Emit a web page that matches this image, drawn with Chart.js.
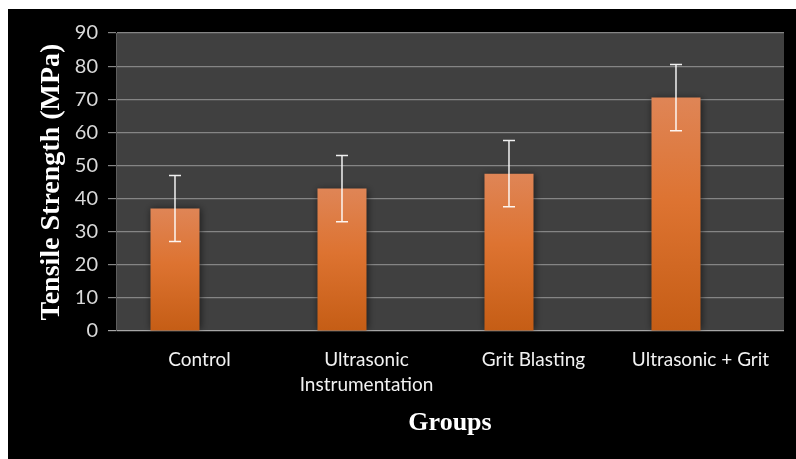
<!DOCTYPE html>
<html>
<head>
<meta charset="utf-8">
<script src="https://cdn.jsdelivr.net/npm/chart.js@4.4.1/dist/chart.umd.min.js"></script>
<style>
  html, body { margin: 0; padding: 0; background: #ffffff; }
  #wrap { width: 796px; height: 459px; position: relative; }
  canvas { display: block; }
</style>
</head>
<body>
<div id="wrap"><canvas id="c" width="796" height="459"></canvas></div>
<script>
// ---- data ----
const categories = [["Control"], ["Ultrasonic", "Instrumentation"], ["Grit Blasting"], ["Ultrasonic + Grit"]];
const meanStrength = [37, 43, 47.5, 70.5];
const stdError = [10, 10, 10, 10];
const emptySeries = [null, null, null, null];
const yMin = 0, yMax = 90, yStep = 10;

// ---- plugins ----
const backgroundPlugin = {
  id: 'bg',
  beforeDraw(chart) {
    const ctx = chart.ctx;
    ctx.save();
    ctx.fillStyle = '#ffffff';
    ctx.fillRect(0, 0, chart.width, chart.height);
    ctx.fillStyle = '#000000';
    ctx.fillRect(8, 9, chart.width - 8, chart.height - 9);
    const a = chart.chartArea;
    ctx.fillStyle = '#404040';
    ctx.fillRect(a.left, a.top, a.right - a.left, a.bottom - a.top);
    ctx.restore();
  }
};

const shadowPlugin = {
  id: 'barShadow',
  beforeDatasetDraw(chart, args) {
    const ctx = chart.ctx;
    ctx.save();
    ctx.shadowColor = 'rgba(0,0,0,0.55)';
    ctx.shadowBlur = 7;
    ctx.shadowOffsetX = 1;
    ctx.shadowOffsetY = 0;
  },
  afterDatasetDraw(chart) {
    chart.ctx.restore();
  }
};

const errorBarPlugin = {
  id: 'errorBars',
  afterDatasetsDraw(chart) {
    const meta = chart.getDatasetMeta(0);
    const yScale = chart.scales.y;
    const ctx = chart.ctx;
    ctx.save();
    ctx.strokeStyle = 'rgba(255,255,255,0.92)';
    ctx.lineWidth = 1.5;
    meta.data.forEach((bar, i) => {
      const v = meanStrength[i], e = stdError[i];
      const x = bar.x;
      const yTop = yScale.getPixelForValue(v + e);
      const yBot = yScale.getPixelForValue(v - e);
      ctx.beginPath();
      ctx.moveTo(x, yTop); ctx.lineTo(x, yBot);
      ctx.moveTo(x - 6, yTop); ctx.lineTo(x + 6, yTop);
      ctx.moveTo(x - 6, yBot); ctx.lineTo(x + 6, yBot);
      ctx.stroke();
    });
    ctx.restore();
  }
};

function barGradient(context) {
  const chart = context.chart;
  if (!chart.chartArea || context.parsed == null || context.parsed.y == null) return '#D86A26';
  const ys = chart.scales.y;
  const top = ys.getPixelForValue(context.parsed.y);
  const bottom = ys.getPixelForValue(0);
  if (!isFinite(top) || !isFinite(bottom) || top === bottom) return '#D86A26';
  const g = chart.ctx.createLinearGradient(0, top, 0, bottom);
  g.addColorStop(0, '#DF8556');
  g.addColorStop(0.45, '#DD7331');
  g.addColorStop(1, '#C55D15');
  return g;
}

new Chart(document.getElementById('c'), {
  type: 'bar',
  data: {
    labels: categories,
    datasets: [
      {
        label: 'Tensile Strength',
        data: meanStrength,
        backgroundColor: barGradient,
        borderWidth: 0,
        barPercentage: 1.0,
        categoryPercentage: 0.587
      },
      {
        label: 'spacer',
        data: emptySeries,
        backgroundColor: 'rgba(0,0,0,0)',
        barPercentage: 1.0,
        categoryPercentage: 0.587
      }
    ]
  },
  options: {
    responsive: false,
    animation: false,
    devicePixelRatio: 1,
    layout: { padding: { top: 33, right: 12, left: 0, bottom: 0 } },
    plugins: {
      legend: { display: false },
      tooltip: { enabled: false }
    },
    scales: {
      x: {
        grid: { display: false, drawTicks: false },
        border: { display: false },
        ticks: {
          color: '#f2f2f2',
          font: { family: 'Lato', size: 19, lineHeight: 1.3 },
          padding: 17,
          maxRotation: 0,
          autoSkip: false
        },
        title: {
          display: true,
          text: 'Groups',
          color: '#ffffff',
          font: { family: 'Liberation Serif', size: 26, weight: 'bold' },
          padding: { top: 0, bottom: 20 }
        },
        afterFit(scale) { scale.height = 128; }
      },
      y: {
        min: yMin,
        max: yMax,
        ticks: {
          stepSize: yStep,
          color: '#d9d9d9',
          font: { family: 'Lato', size: 20 },
          padding: 10
        },
        grid: {
          color: (ctx) => (ctx.tick && ctx.tick.value === 0) ? '#a6a6a6' : '#858585',
          lineWidth: 1.2,
          tickLength: 8,
          drawTicks: true
        },
        border: { display: true, color: '#5e5e5e', width: 1 },
        title: {
          display: true,
          text: 'Tensile Strength (MPa)',
          color: '#ffffff',
          font: { family: 'Liberation Serif', size: 28, weight: 'bold' },
          padding: { top: 35, bottom: 0 }
        },
        afterFit(scale) { scale.width = 116; }
      }
    }
  },
  plugins: [backgroundPlugin, shadowPlugin, errorBarPlugin]
});
</script>
</body>
</html>
